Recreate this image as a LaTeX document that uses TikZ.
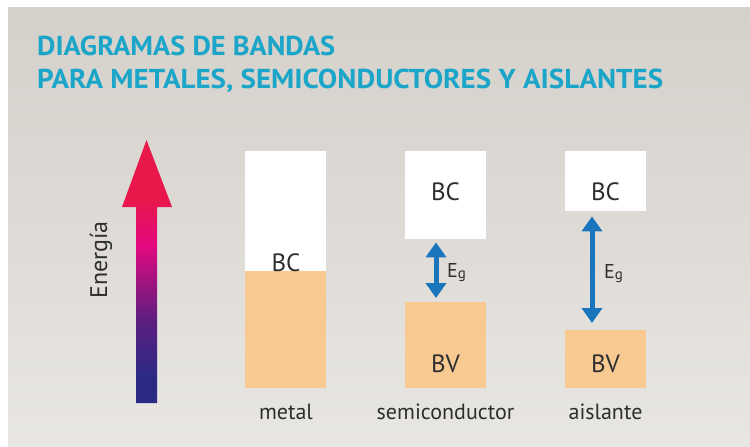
\documentclass[tikz,border=0pt]{standalone}
\usepackage{fontspec}
\usepackage{graphicx}
\setmainfont{PT Sans}
\usetikzlibrary{arrows.meta}
\definecolor{titleblue}{HTML}{1BA5C9}
\definecolor{bandorange}{HTML}{F9C992}
\definecolor{gapblue}{HTML}{1B75BC}
\definecolor{labelgray}{HTML}{2E2E2E}
\definecolor{bgtop}{HTML}{D4D0CA}
\definecolor{bgbottom}{HTML}{E8E6E3}
\definecolor{enavy}{HTML}{2B2A83}
\definecolor{epurple}{HTML}{5E1E80}
\definecolor{emagenta}{HTML}{E3097F}
\definecolor{ered}{HTML}{E8184B}
\pgfdeclareverticalshading{energia}{100bp}{color(0bp)=(enavy); color(25bp)=(enavy); color(30bp)=(enavy); color(41bp)=(epurple); color(55bp)=(emagenta); color(64bp)=(ered); color(75bp)=(ered); color(100bp)=(ered)}
\begin{document}
\begin{tikzpicture}[x=1pt, y=-1pt,
  lbl/.style={text=labelgray, font=\fontsize{25}{25}\selectfont, inner sep=0pt, anchor=base},
  bandcap/.style={text=labelgray, font=\fontsize{22}{22}\selectfont, inner sep=0pt, anchor=base},
  eglbl/.style={text=labelgray, font=\fontsize{20}{20}\selectfont, inner sep=0pt, anchor=base west},
  band/.style={minimum width=81pt, inner sep=0pt, anchor=north west},
  gap/.style={gapblue, line width=5pt, {Triangle[width=20pt,length=15pt]}-{Triangle[width=20pt,length=15pt]}}]
\useasboundingbox (0,0) rectangle (750,447);
% background
\fill[top color=bgtop, bottom color=bgbottom] (8,7) rectangle (750,447);
% title
\node[anchor=base west, inner sep=0pt, text=titleblue] (title1) at (37,56) {\resizebox{298pt}{19.5pt}{\bfseries DIAGRAMAS DE BANDAS}};
\node[anchor=base west, inner sep=0pt, text=titleblue] (title2) at (37,88) {\resizebox{626pt}{19.5pt}{\bfseries PARA METALES, SEMICONDUCTORES Y AISLANTES}};
% energy arrow
\shade[shading=energia] (136,403) -- (136,207) -- (122,207) -- (146.5,140) -- (172,207) -- (157,207) -- (157,403) -- cycle;
\node[text=labelgray, font=\fontsize{24}{24}\selectfont, inner sep=0pt, rotate=90] (energia) at (101,260) {Energía};
% metal
\node[band, fill=white, minimum height=120pt] (meBC) at (245,151) {};
\node[band, fill=bandorange, minimum height=117pt] (meBV) at (245,271) {};
\node[lbl] (meBCt) at (286,271) {BC};
\node[bandcap] (mecap) at (286,419) {metal};
% semiconductor
\node[band, fill=white, minimum height=88pt] (scBC) at (405,151) {};
\node[band, fill=bandorange, minimum height=86pt] (scBV) at (405,302) {};
\node[lbl] (scBCt) at (445.5,200) {BC};
\node[lbl] (scBVt) at (445.5,372) {BV};
\draw[gap, shorten <=3pt, shorten >=4pt] (scBC.south -| 436,0) -- (scBV.north -| 436,0);
\node[eglbl] (scEg) at (447,277) {E\raisebox{-1pt}{\fontsize{15}{15}\selectfont g}};
\node[bandcap] (sccap) at (445.5,419) {semiconductor};
% aislante
\node[band, fill=white, minimum height=60pt] (isBC) at (565,151) {};
\node[band, fill=bandorange, minimum height=58pt] (isBV) at (565,330) {};
\node[lbl] (isBCt) at (605.5,200) {BC};
\node[lbl] (isBVt) at (605.5,372) {BV};
\draw[gap, shorten <=5pt, shorten >=7pt] (isBC.south -| 592,0) -- (isBV.north -| 592,0);
\node[eglbl] (isEg) at (604,278) {E\raisebox{-1pt}{\fontsize{15}{15}\selectfont g}};
\node[bandcap] (iscap) at (605.5,419) {aislante};
\end{tikzpicture}
\end{document}
